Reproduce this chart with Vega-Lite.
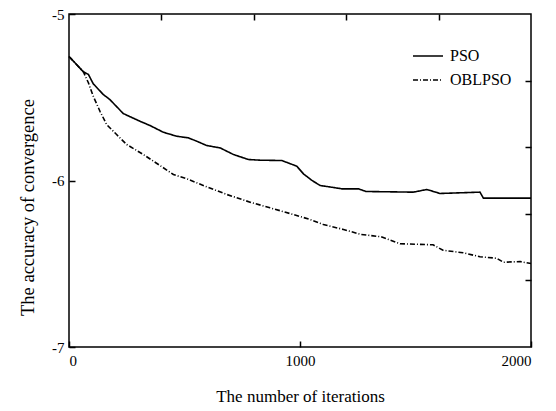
{
  "$schema": "https://vega.github.io/schema/vega-lite/v6.json",
  "width": 462,
  "height": 333,
  "autosize": {"type": "none"},
  "padding": {"left": 69, "top": 14, "right": 25, "bottom": 64},
  "config": {
    "view": {"stroke": "black", "strokeWidth": 1.5},
    "font": "Liberation Serif",
    "text": {"font": "Liberation Serif"},
    "axis": {"domain": false, "grid": false, "tickColor": "black", "tickWidth": 1.5, "labelColor": "black", "titleColor": "black", "labelFont": "Liberation Serif", "titleFont": "Liberation Serif", "titleFontWeight": "normal"},
    "legend": {"labelFont": "Liberation Serif", "labelColor": "black"}
  },
  "data": {"values": [
    {"s": "PSO", "x": 0, "y": -5.255},
    {"s": "PSO", "x": 62, "y": -5.347},
    {"s": "PSO", "x": 84, "y": -5.363},
    {"s": "PSO", "x": 105, "y": -5.419},
    {"s": "PSO", "x": 148, "y": -5.483},
    {"s": "PSO", "x": 177, "y": -5.514},
    {"s": "PSO", "x": 235, "y": -5.598},
    {"s": "PSO", "x": 307, "y": -5.644},
    {"s": "PSO", "x": 351, "y": -5.67},
    {"s": "PSO", "x": 408, "y": -5.71},
    {"s": "PSO", "x": 466, "y": -5.734},
    {"s": "PSO", "x": 517, "y": -5.744},
    {"s": "PSO", "x": 553, "y": -5.764},
    {"s": "PSO", "x": 596, "y": -5.79},
    {"s": "PSO", "x": 654, "y": -5.804},
    {"s": "PSO", "x": 712, "y": -5.844},
    {"s": "PSO", "x": 777, "y": -5.874},
    {"s": "PSO", "x": 827, "y": -5.878},
    {"s": "PSO", "x": 921, "y": -5.88},
    {"s": "PSO", "x": 986, "y": -5.914},
    {"s": "PSO", "x": 1015, "y": -5.96},
    {"s": "PSO", "x": 1050, "y": -5.998},
    {"s": "PSO", "x": 1087, "y": -6.03},
    {"s": "PSO", "x": 1145, "y": -6.042},
    {"s": "PSO", "x": 1181, "y": -6.05},
    {"s": "PSO", "x": 1253, "y": -6.05},
    {"s": "PSO", "x": 1286, "y": -6.066},
    {"s": "PSO", "x": 1491, "y": -6.07},
    {"s": "PSO", "x": 1549, "y": -6.054},
    {"s": "PSO", "x": 1606, "y": -6.078},
    {"s": "PSO", "x": 1779, "y": -6.07},
    {"s": "PSO", "x": 1794, "y": -6.106},
    {"s": "PSO", "x": 2000, "y": -6.106},
    {"s": "OBLPSO", "x": 0, "y": -5.255},
    {"s": "OBLPSO", "x": 62, "y": -5.347},
    {"s": "OBLPSO", "x": 84, "y": -5.413},
    {"s": "OBLPSO", "x": 105, "y": -5.494},
    {"s": "OBLPSO", "x": 134, "y": -5.584},
    {"s": "OBLPSO", "x": 163, "y": -5.664},
    {"s": "OBLPSO", "x": 206, "y": -5.724},
    {"s": "OBLPSO", "x": 250, "y": -5.784},
    {"s": "OBLPSO", "x": 322, "y": -5.844},
    {"s": "OBLPSO", "x": 394, "y": -5.91},
    {"s": "OBLPSO", "x": 452, "y": -5.964},
    {"s": "OBLPSO", "x": 510, "y": -5.99},
    {"s": "OBLPSO", "x": 596, "y": -6.038},
    {"s": "OBLPSO", "x": 683, "y": -6.084},
    {"s": "OBLPSO", "x": 784, "y": -6.13},
    {"s": "OBLPSO", "x": 870, "y": -6.164},
    {"s": "OBLPSO", "x": 971, "y": -6.204},
    {"s": "OBLPSO", "x": 1043, "y": -6.234},
    {"s": "OBLPSO", "x": 1101, "y": -6.264},
    {"s": "OBLPSO", "x": 1188, "y": -6.294},
    {"s": "OBLPSO", "x": 1264, "y": -6.324},
    {"s": "OBLPSO", "x": 1351, "y": -6.338},
    {"s": "OBLPSO", "x": 1433, "y": -6.38},
    {"s": "OBLPSO", "x": 1576, "y": -6.386},
    {"s": "OBLPSO", "x": 1619, "y": -6.419},
    {"s": "OBLPSO", "x": 1706, "y": -6.434},
    {"s": "OBLPSO", "x": 1779, "y": -6.458},
    {"s": "OBLPSO", "x": 1851, "y": -6.467},
    {"s": "OBLPSO", "x": 1881, "y": -6.491},
    {"s": "OBLPSO", "x": 1953, "y": -6.487},
    {"s": "OBLPSO", "x": 2000, "y": -6.499}
  ]},
  "resolve": {"axis": {"x": "independent", "y": "independent"}},
  "layer": [
    {
      "mark": {"type": "line", "strokeWidth": 1.6},
      "encoding": {
        "x": {"field": "x", "type": "quantitative", "scale": {"domain": [0, 2000], "nice": false, "zero": false},
          "axis": {"orient": "bottom", "values": [0, 1000, 2000], "labelExpr": "format(datum.value, 'd')", "tickSize": -6, "labelPadding": 12, "labelFont": "Liberation Serif", "labelFontSize": 15, "title": "The number of iterations", "titleFont": "Liberation Serif", "titleFontSize": 17, "titlePadding": 20}},
        "y": {"field": "y", "type": "quantitative", "scale": {"domain": [-7, -5], "nice": false, "zero": false},
          "axis": {"orient": "left", "values": [-5, -6, -7], "labelExpr": "'-' + format(-datum.value, 'd')", "tickSize": -6, "labelPadding": 11, "labelFont": "Liberation Serif", "labelFontSize": 15, "title": "The accuracy of convergence", "titleFont": "Liberation Serif", "titleFontSize": 18.5, "titlePadding": 14, "titleY": 193}},
        "color": {"field": "s", "type": "nominal", "scale": {"domain": ["PSO", "OBLPSO"], "range": ["black", "black"]},
          "legend": {"title": null, "orient": "none", "legendX": 343, "legendY": 26, "symbolType": "stroke", "symbolSize": 900, "symbolStrokeWidth": 1.5, "labelFont": "Liberation Serif", "labelFontSize": 16, "labelOffset": 6, "rowPadding": -3}},
        "strokeDash": {"field": "s", "type": "nominal", "scale": {"domain": ["PSO", "OBLPSO"], "range": [[1, 0], [5, 2, 1, 2]]},
          "legend": {"title": null, "orient": "none", "legendX": 343, "legendY": 26, "symbolType": "stroke", "symbolSize": 900, "symbolStrokeWidth": 1.5, "labelFont": "Liberation Serif", "labelFontSize": 16, "labelOffset": 6, "rowPadding": -3}}
      }
    },
    {
      "mark": {"type": "line", "opacity": 0},
      "encoding": {
        "x": {"field": "x", "type": "quantitative", "scale": {"domain": [0, 2000], "nice": false, "zero": false},
          "axis": {"orient": "top", "values": [400, 800, 1200, 1600], "tickSize": -6, "labels": false, "title": null}},
        "y": {"field": "y", "type": "quantitative", "scale": {"domain": [-7, -5], "nice": false, "zero": false},
          "axis": {"orient": "right", "values": [-5.4, -5.8, -6.2, -6.6], "tickSize": -6, "labels": false, "title": null}},
        "detail": {"field": "s"}
      }
    }
  ]
}
